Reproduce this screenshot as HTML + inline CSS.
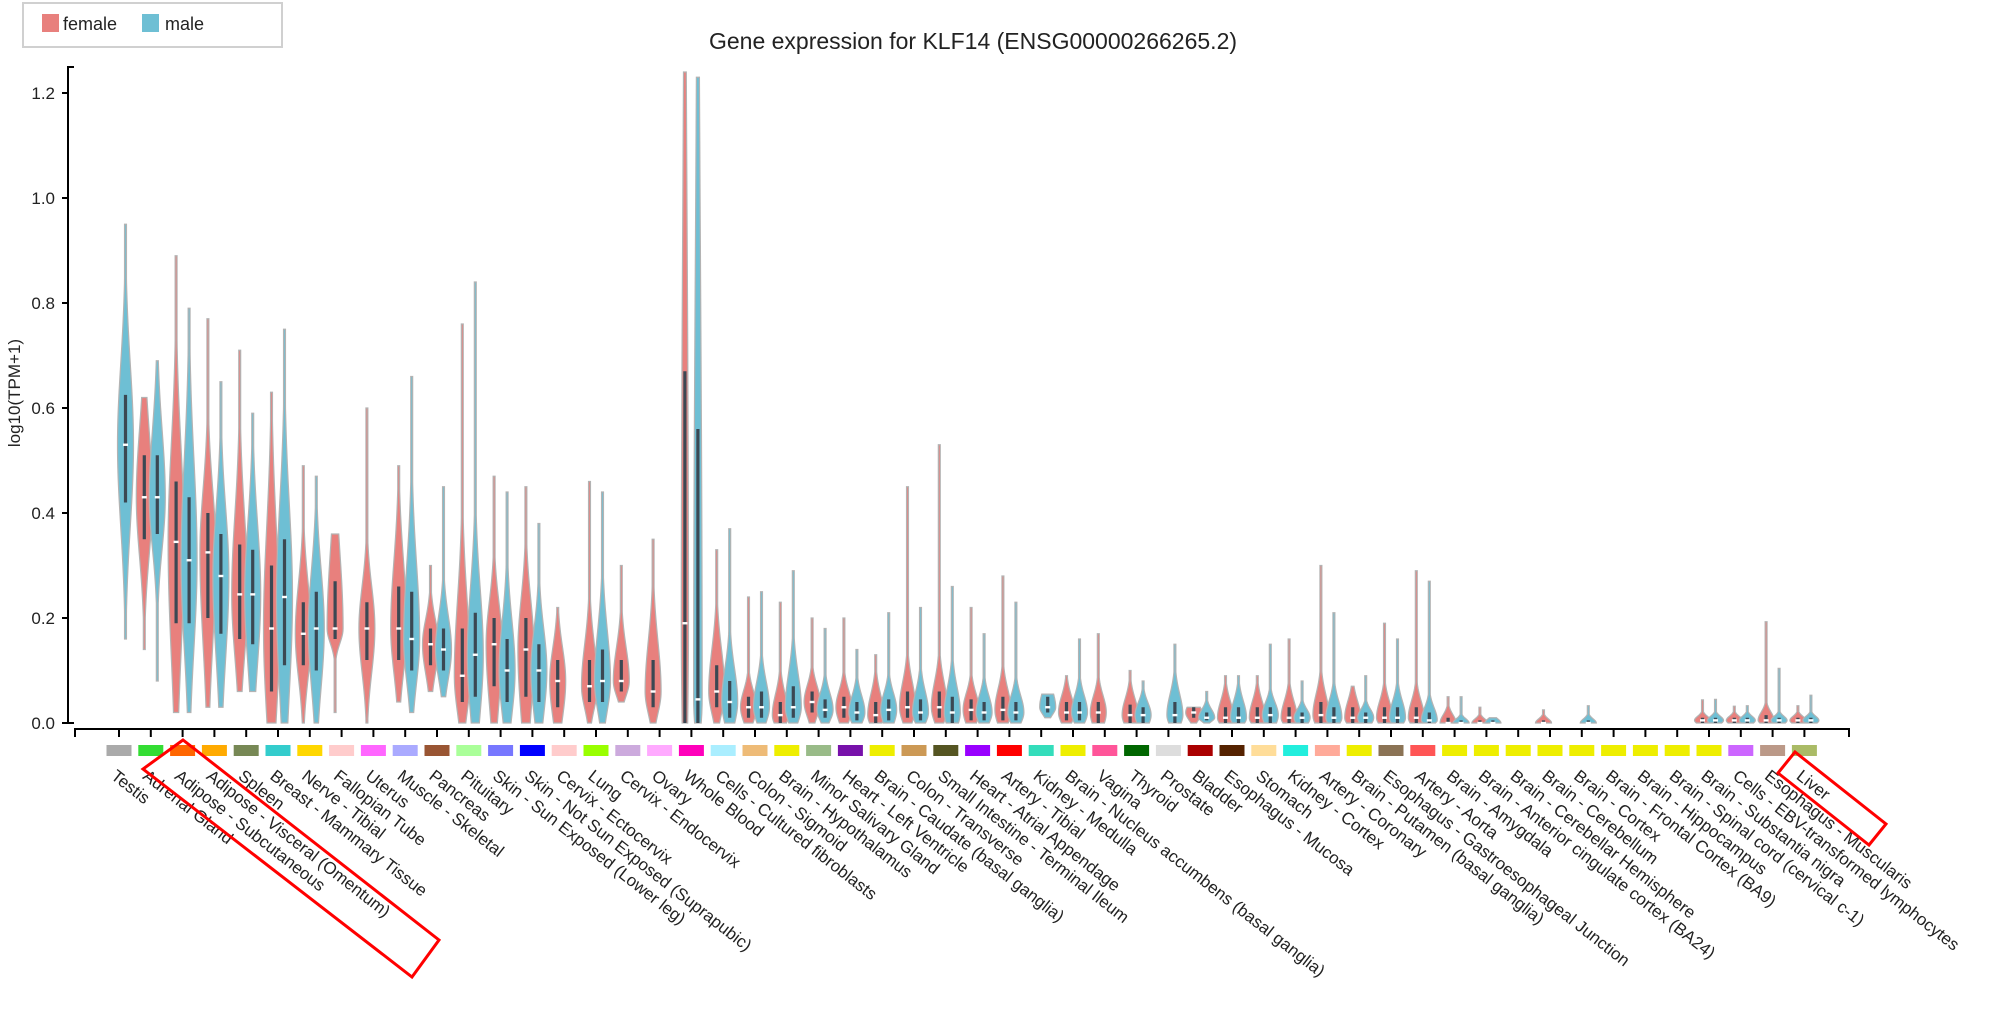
<!DOCTYPE html>
<html><head><meta charset="utf-8">
<style>
html,body{margin:0;padding:0;background:#fff;}
svg{display:block;font-family:"Liberation Sans",Arial,sans-serif;}
</style></head>
<body>
<svg id="chart" width="1989" height="1009" viewBox="0 0 1989 1009" xmlns="http://www.w3.org/2000/svg">
  <g>
    <rect x="23" y="3" width="259" height="44" fill="#fff" stroke="#d0d0d0" stroke-width="2"/>
    <rect x="42" y="14" width="17" height="18" fill="#e8807d"/>
    <text x="63" y="30" font-size="18" fill="#222">female</text>
    <rect x="142" y="14" width="17" height="18" fill="#6ebfd4"/>
    <text x="165" y="30" font-size="18" fill="#222">male</text>
  </g>
  <text x="973" y="49" font-size="23" text-anchor="middle" fill="#222">Gene expression for KLF14 (ENSG00000266265.2)</text>
  <text transform="translate(20,393) rotate(-90)" font-size="17" text-anchor="middle" fill="#222">log10(TPM+1)</text>
  <g id="axes"></g>
  <g id="marks"></g>
  <g id="xlabels"></g>
  <polygon points="183,740 143,769 412,977 439,940" fill="none" stroke="#ff0000" stroke-width="3"/>
  <polygon points="1795,752 1778,773 1869,845 1886,824" fill="none" stroke="#ff0000" stroke-width="3"/>
</svg>
<script>
const tissues = ["Testis","Adrenal Gland","Adipose - Subcutaneous","Adipose - Visceral (Omentum)","Spleen","Breast - Mammary Tissue","Nerve - Tibial","Fallopian Tube","Uterus","Muscle - Skeletal","Pancreas","Pituitary","Skin - Sun Exposed (Lower leg)","Skin - Not Sun Exposed (Suprapubic)","Cervix - Ectocervix","Lung","Cervix - Endocervix","Ovary","Whole Blood","Cells - Cultured fibroblasts","Colon - Sigmoid","Brain - Hypothalamus","Minor Salivary Gland","Heart - Left Ventricle","Brain - Caudate (basal ganglia)","Colon - Transverse","Small Intestine - Terminal Ileum","Heart - Atrial Appendage","Artery - Tibial","Kidney - Medulla","Brain - Nucleus accumbens (basal ganglia)","Vagina","Thyroid","Prostate","Bladder","Esophagus - Mucosa","Stomach","Kidney - Cortex","Artery - Coronary","Brain - Putamen (basal ganglia)","Esophagus - Gastroesophageal Junction","Artery - Aorta","Brain - Amygdala","Brain - Anterior cingulate cortex (BA24)","Brain - Cerebellar Hemisphere","Brain - Cerebellum","Brain - Cortex","Brain - Frontal Cortex (BA9)","Brain - Hippocampus","Brain - Spinal cord (cervical c-1)","Brain - Substantia nigra","Cells - EBV-transformed lymphocytes","Esophagus - Muscularis","Liver"];
const tissueColors = ["#aaaaaa","#33dd33","#ff6600","#ffaa00","#778855","#33cccc","#ffd700","#ffcccc","#ff66ff","#aaaaff","#995533","#aaff99","#7777ff","#0000ff","#ffcccc","#99ff00","#ccaadd","#ffaaff","#ff00bb","#aaeeff","#eebb77","#eeee00","#99bb88","#7711aa","#eeee00","#cc9955","#555522","#9900ff","#ff0000","#33ddbb","#eeee00","#ff5599","#006600","#dddddd","#aa0000","#552200","#ffdd99","#22eedd","#ffaa99","#eeee00","#8b7355","#ff5555","#eeee00","#eeee00","#eeee00","#eeee00","#eeee00","#eeee00","#eeee00","#eeee00","#eeee00","#cc66ff","#bb9988","#aabb66"];
const yTicks = [0, 0.2, 0.4, 0.6, 0.8, 1.0, 1.2];
const yTickLabels = ["0.0","0.2","0.4","0.6","0.8","1.0","1.2"];
// female: [min, q1, median, q3, max]
const femaleStats = [null,[.14,.35,.43,.51,.62],[.02,.19,.345,.46,.89],[.03,.20,.325,.40,.77],[.06,.16,.245,.34,.71],[0,.06,.18,.30,.63],[0,.11,.17,.23,.49],[.02,.16,.18,.27,.36],[0,.12,.18,.23,.60],[.04,.12,.18,.26,.49],[.06,.11,.15,.18,.30],[0,.04,.09,.18,.76],[0,.07,.15,.20,.47],[0,.05,.14,.20,.45],[0,.03,.08,.12,.22],[0,.04,.07,.12,.46],[.04,.06,.08,.12,.30],[0,.03,.06,.12,.35],[0,0,.19,.67,1.24],[0,.03,.06,.11,.33],[0,.01,.03,.05,.24],[0,0,.015,.04,.23],[0,.02,.04,.06,.20],[0,.01,.03,.05,.20],[0,0,.015,.04,.13],[0,.01,.03,.06,.45],[0,.01,.03,.06,.53],[0,.005,.025,.045,.22],[0,.005,.025,.05,.28],null,[0,.005,.02,.04,.09],[0,0,.02,.04,.17],[0,0,.015,.035,.10],null,[0,.01,.02,.03,.03],[0,0,.01,.03,.09],[0,0,.01,.03,.09],[0,0,.01,.03,.16],[0,0,.015,.04,.30],[0,0,.01,.03,.07],[0,0,.01,.03,.19],[0,0,.01,.03,.29],[0,0,0,.01,.05],[0,0,0,.005,.03],null,[0,0,0,.005,.025],null,null,null,null,[0,0,.005,.01,.044],[0,0,.005,.01,.032],[0,0,.005,.015,.193],[0,0,.005,.01,.033]];
// male: [min, q1, median, q3, max]
const maleStats = [[.16,.42,.53,.625,.95],[.08,.36,.43,.51,.69],[.02,.19,.31,.43,.79],[.03,.17,.28,.36,.65],[.06,.15,.245,.33,.59],[0,.11,.24,.35,.75],[0,.10,.18,.25,.47],null,null,[.02,.10,.16,.25,.66],[.05,.10,.14,.18,.45],[0,.05,.13,.21,.84],[0,.04,.10,.16,.44],[0,.04,.10,.15,.38],null,[0,.04,.08,.14,.44],null,null,[0,0,.045,.56,1.23],[0,.01,.04,.08,.37],[0,.01,.03,.06,.25],[0,.01,.03,.07,.29],[0,.01,.025,.045,.18],[0,.005,.02,.04,.14],[0,.005,.025,.045,.21],[0,.005,.02,.045,.22],[0,0,.02,.05,.26],[0,.005,.02,.04,.17],[0,.005,.02,.04,.23],[.01,.02,.03,.05,.055],[0,.005,.02,.04,.16],null,[0,0,.015,.03,.08],[0,0,.015,.04,.15],[0,.005,.01,.02,.06],[0,0,.01,.03,.09],[0,0,.015,.03,.15],[0,0,.01,.02,.08],[0,0,.01,.03,.21],[0,0,.01,.02,.09],[0,0,.01,.03,.16],[0,0,.005,.02,.27],[0,0,0,.005,.05],[0,0,0,.005,.01],null,null,[0,0,0,.005,.033],null,null,null,[0,0,.005,.01,.045],[0,0,.005,.01,.033],[0,0,.005,.01,.104],[0,0,.005,.01,.053]];

const NS = "http://www.w3.org/2000/svg";
function el(tag, attrs, parent){ const e=document.createElementNS(NS,tag); for(const k in attrs) e.setAttribute(k,attrs[k]); parent.appendChild(e); return e; }
const Y0 = 723, PXPERUNIT = 525;
function yScale(v){ return Y0 - v*PXPERUNIT; }
const X0 = 119, STEP = 31.8;
function xScale(i){ return X0 + i*STEP; }

const axes = document.getElementById('axes');
const yAxis = el('path',{d:'M74,67H68V723H74',fill:'none',stroke:'#000','stroke-width':2},axes);


yTicks.forEach((t,k)=>{
  const ln = el('line',{x1:62,x2:68,y1:yScale(t),y2:yScale(t),stroke:'#000','stroke-width':2},axes);
  
  
  const tx = el('text',{x:55,y:yScale(t)+6,'text-anchor':'end','font-size':17,fill:'#222'},axes);
  
  
  tx.textContent = yTickLabels[k];
});
const xAxis = el('path',{d:'M75,737V729H1849V737',fill:'none',stroke:'#000','stroke-width':2},axes);



const marks = document.getElementById('marks');
const xl = document.getElementById('xlabels');
function violin(s, cx, fill, g){
  const [mn,q1,md,q3,mx] = s;
  const W = 8 * Math.min(1, 0.3/Math.max(q3-q1,0.001));
  const sL = Math.max(md-q1,0.004)*1.4, sH = Math.max(q3-md,0.004)*1.6;
  const N = 70, pts=[];
  for(let k=0;k<=N;k++){
    const v = mn + (mx-mn)*k/N;
    let gv = v<md ? Math.exp(-0.5*Math.pow((v-md)/sL,2)) : Math.exp(-0.5*Math.pow((v-md)/sH,2));
    gv = Math.max(gv,0.12*8/W);
    pts.push([v, W*gv]);
  }
  let d = 'M'+pts.map(p=>(cx+p[1]).toFixed(2)+','+yScale(p[0]).toFixed(2)).join('L');
  d += 'L'+pts.slice().reverse().map(p=>(cx-p[1]).toFixed(2)+','+yScale(p[0]).toFixed(2)).join('L')+'Z';
  const path = el('path',{d:d,fill:fill,stroke:'#b3b3b3','stroke-width':1.2},g);
  
  
  if(yScale(q1)-yScale(q3) > 0.5){
    const b = el('rect',{x:cx-1.6,y:yScale(q3),width:3.2,height:yScale(q1)-yScale(q3),fill:'#3b4853'},g);
    
    
  }
  const m = el('rect',{x:cx-2.5,y:yScale(md)-1.2,width:5,height:2.4,fill:'#fff'},g);
  
  
}
tissues.forEach((name,i)=>{
  const cx = xScale(i);
  const g = el('g',{},marks);
  
  
  if(femaleStats[i]) violin(femaleStats[i], cx-6.5, '#e8807d', g);
  if(maleStats[i]) violin(maleStats[i], cx+6.5, '#6ebfd4', g);
  const tk = el('line',{x1:cx,x2:cx,y1:729,y2:737,stroke:'#000','stroke-width':2},axes);
  
  
  const box = el('rect',{x:cx-12.5,y:745,width:25,height:11,fill:tissueColors[i]},xl);
  
  
  const t = el('text',{transform:'translate('+(cx-9)+',778) rotate(38)','font-size':17,fill:'#222'},xl);
  
  
  t.textContent = name;
});
</script>
</body></html>
